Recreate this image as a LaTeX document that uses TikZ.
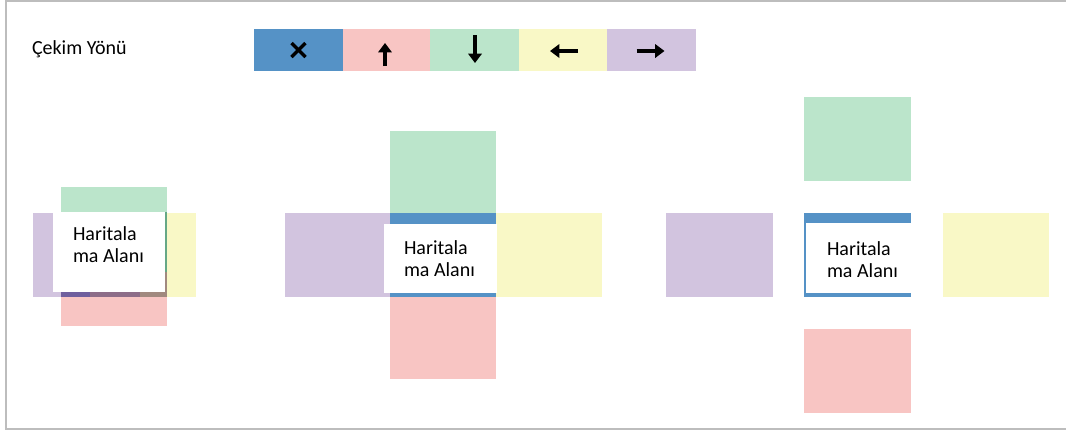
\documentclass[tikz,border=0pt]{standalone}
\usepackage{fontspec}
\setmainfont{Carlito}
\usetikzlibrary{arrows.meta,calc}

\definecolor{cblue}{HTML}{5592C6}
\definecolor{cpink}{HTML}{F8C5C3}
\definecolor{cgreen}{HTML}{BBE5CB}
\definecolor{cyellow}{HTML}{F9F8C6}
\definecolor{cpurple}{HTML}{D2C4DF}
\definecolor{cframe}{HTML}{BDBDBD}
\definecolor{mixa}{HTML}{6F5F9E}
\definecolor{mixb}{HTML}{8D6D88}
\definecolor{mixc}{HTML}{A1897F}
\definecolor{mixd}{HTML}{66A886}

% filled rectangle given by its corners in pixel units: name, colour, x1, y1, x2, y2
\newcommand{\pane}[6]{%
  \node[pane, fill=#2, minimum width={(#5-#3)*0.75pt}, minimum height={(#6-#4)*0.75pt}]
    (#1) at (#3,#4) {};}

\tikzset{
  pane/.style={rectangle, draw=none, inner sep=0pt, outer sep=0pt, anchor=north west},
  lbl/.style={inner sep=0pt, outer sep=0pt, align=left, font=\fontsize{15pt}{16.2pt}\selectfont},
  glyph/.style={line width=2.4pt, black},
  arr/.style={glyph, -{Triangle[length=7pt, width=10pt]}},
  frameline/.style={draw=cframe, line width=1.8pt}
}

\begin{document}
\begin{tikzpicture}[x=0.75pt, y=-0.75pt]
\useasboundingbox (0,0) rectangle (1066,430);

% outer frame
\coordinate (ftr) at (1066,0.7);
\coordinate (ftl) at (6,0.7);
\coordinate (fbl) at (6,429);
\coordinate (fbr) at (1066,429);
\draw[frameline] (ftr) -- (ftl) -- (fbl) -- (fbr);

% legend
\node[lbl, anchor=base west] (title) at (32,54) {Çekim Yönü};
\pane{kx}{cblue}{254}{29}{343}{71}
\pane{kup}{cpink}{343}{29}{430}{71}
\pane{kdown}{cgreen}{430}{29}{519}{71}
\pane{kleft}{cyellow}{519}{29}{607}{71}
\pane{kright}{cpurple}{607}{29}{696}{71}

\draw[glyph] ($(kx.center)+(-7,-7)$) -- ($(kx.center)+(7,7)$);
\draw[glyph] ($(kx.center)+(-7,7)$) -- ($(kx.center)+(7,-7)$);
\draw[arr] ($(kup.center)+(-1.5,16)$) -- ($(kup.center)+(-1.5,-7)$);
\draw[arr] ($(kdown.center)+(0.5,-15)$) -- ($(kdown.center)+(0.5,13)$);
\draw[arr] ($(kleft.center)+(15,1)$) -- ($(kleft.center)+(-13,1)$);
\draw[arr] ($(kright.center)+(-15,1)$) -- ($(kright.center)+(13,1)$);

% first layout: all panes stacked on the area
\pane{apurple}{cpurple}{33}{213}{140}{297}
\pane{ayellow}{cyellow}{90}{213}{196}{297}
\pane{agreen}{cgreen}{61}{187}{167}{297}
\pane{apink}{cpink}{61}{213}{167}{326}
\pane{amixa}{mixa}{61}{292}{90}{297}
\pane{amixb}{mixb}{90}{292}{140}{297}
\pane{amixc}{mixc}{140}{292}{167}{297}
\pane{amixd}{mixd}{165}{212}{167}{272}
\pane{amixe}{mixc}{165}{272}{167}{292}
\pane{aarea}{white}{53}{212}{165}{292}
\node[lbl, anchor=north west] (atext) at (73,227) {Haritala\\ma Alanı};

% second layout: panes touching the area
\pane{bgreen}{cgreen}{390}{131}{496}{213}
\pane{bpurple}{cpurple}{285}{213}{390}{297}
\pane{byellow}{cyellow}{496}{213}{602}{297}
\pane{bpink}{cpink}{390}{297}{496}{379}
\pane{bblue}{cblue}{390}{213}{496}{297}
\pane{barea}{white}{384}{224}{497}{293}
\node[lbl, anchor=north west] (btext) at (404,241) {Haritala\\ma Alanı};

% third layout: panes set apart from the area
\pane{cgreenp}{cgreen}{804}{97}{911}{181}
\pane{cpurplep}{cpurple}{666}{213}{773}{297}
\pane{cbluep}{cblue}{804}{213}{911}{297}
\pane{carea}{white}{806}{223}{911}{293}
\pane{cyellowp}{cyellow}{943}{213}{1049}{297}
\pane{cpinkp}{cpink}{804}{329}{911}{413}
\node[lbl, anchor=north west] (ctext) at (827,242) {Haritala\\ma Alanı};
\end{tikzpicture}
\end{document}
